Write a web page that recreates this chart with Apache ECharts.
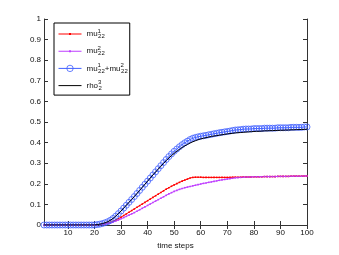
<!DOCTYPE html>
<html>
<head>
<meta charset="utf-8">
<script src="https://cdn.jsdelivr.net/npm/echarts@6/dist/echarts.min.js"></script>
<style>html,body{margin:0;padding:0;background:#fff}#c{width:339px;height:255px}</style>
</head>
<body>
<div id="c"></div>
<script>
var xTicks = [10, 20, 30, 40, 50, 60, 70, 80, 90, 100];
var mu1 = [0,0,0,0,0,0,0,0,0,0,0,0,0,0,0,0,0,0,0,0,
  0.001,0.002,0.004,0.006,0.009,0.013,0.018,0.024,0.031,0.038,
  0.046,0.054,0.062,0.070,0.078,0.086,0.094,0.102,0.110,0.118,
  0.126,0.134,0.142,0.150,0.158,0.166,0.174,0.181,0.188,0.195,
  0.201,0.207,0.213,0.218,0.223,0.228,0.231,0.232,0.232,0.232,
  0.231,0.231,0.231,0.231,0.231,0.231,0.231,0.231,0.231,0.231,
  0.231,0.232,0.232,0.232,0.232,0.233,0.233,0.233,0.233,0.234,
  0.234,0.234,0.234,0.235,0.235,0.235,0.235,0.235,0.236,0.236,
  0.236,0.236,0.236,0.237,0.237,0.237,0.237,0.237,0.238,0.238];
var mu2 = [0,0,0,0,0,0,0,0,0,0,0,0,0,0,0,0,0,0,0,0,
  0.001,0.002,0.003,0.005,0.007,0.010,0.014,0.019,0.024,0.030,
  0.036,0.042,0.048,0.054,0.060,0.067,0.074,0.081,0.088,0.095,
  0.102,0.109,0.116,0.123,0.130,0.137,0.144,0.151,0.157,0.163,
  0.168,0.173,0.177,0.181,0.184,0.187,0.190,0.193,0.196,0.199,
  0.202,0.204,0.207,0.209,0.212,0.214,0.217,0.219,0.221,0.223,
  0.225,0.227,0.229,0.230,0.231,0.232,0.233,0.233,0.233,0.234,
  0.234,0.234,0.234,0.235,0.235,0.235,0.235,0.235,0.236,0.236,
  0.236,0.236,0.236,0.237,0.237,0.237,0.237,0.237,0.238,0.238];
var muSum = [0,0,0,0,0,0,0,0,0,0,0,0,0,0,0,0,0,0,0,0,
  0.002,0.004,0.007,0.011,0.016,0.023,0.032,0.043,0.055,0.068,
  0.082,0.096,0.110,0.124,0.138,0.153,0.168,0.183,0.198,0.213,
  0.228,0.243,0.258,0.273,0.288,0.303,0.318,0.332,0.345,0.358,
  0.369,0.380,0.390,0.399,0.407,0.415,0.421,0.425,0.428,0.431,
  0.433,0.435,0.438,0.440,0.443,0.445,0.448,0.450,0.452,0.454,
  0.456,0.459,0.461,0.462,0.463,0.465,0.466,0.466,0.466,0.468,
  0.468,0.468,0.468,0.470,0.470,0.470,0.470,0.470,0.472,0.472,
  0.472,0.472,0.472,0.474,0.474,0.474,0.474,0.474,0.476,0.476];
var rho = [0,0,0,0,0,0,0,0,0,0,0,0,0,0,0,0,0,0,0,0,
  0.002,0.004,0.007,0.011,0.016,0.023,0.032,0.043,0.055,0.068,
  0.082,0.096,0.110,0.124,0.138,0.153,0.168,0.183,0.198,0.213,
  0.228,0.243,0.257,0.271,0.285,0.299,0.312,0.325,0.337,0.348,
  0.358,0.367,0.376,0.384,0.391,0.398,0.404,0.409,0.414,0.418,
  0.421,0.424,0.427,0.430,0.432,0.434,0.436,0.438,0.440,0.442,
  0.444,0.445,0.447,0.448,0.449,0.450,0.451,0.452,0.453,0.454,
  0.455,0.455,0.456,0.457,0.457,0.458,0.458,0.459,0.459,0.460,
  0.460,0.461,0.461,0.462,0.462,0.463,0.463,0.464,0.464,0.465];

function pairs(arr) { return arr.map(function (v, i) { return [i + 1, v]; }); }

var FONT = 'Liberation Sans';
var FS = 8;
var AX = '#333';
var TXT = '#111';
var RED = '#ff0000', MAG = '#bf3fff', BLUE = '#4060ff';
var legendText = {
  mu1: '{b|mu}{sp|1}{sb|22}',
  mu2: '{b|mu}{sp|2}{sb|22}',
  sum: '{b|mu}{sp|1}{sb|22}{b|+mu}{sp|2}{sb|22}',
  rho: '{b|rho}{sp|3}{sb|2}'
};
var dotLine = 'path://M0,0.5H23V1.5H0Z M10.5,0H12.5V2H10.5Z';
var plainLine = 'path://M0,0H23V1H0Z';

var chart = echarts.init(document.getElementById('c'), null, {renderer: 'canvas'});
var tickCommon = {inside: true, length: 4, lineStyle: {color: AX}};
chart.setOption({
  animation: false,
  backgroundColor: '#fff',
  textStyle: {fontFamily: FONT},
  grid: {left: 44, right: 32, top: 19, bottom: 30},
  legend: {
    left: 54, top: 23, orient: 'vertical',
    backgroundColor: '#fff', borderColor: '#000', borderWidth: 1,
    padding: [5, 2, 4, 4], itemGap: 5.7, itemWidth: 23, itemHeight: 8,
    data: [
      {name: 'mu1', icon: dotLine},
      {name: 'mu2', icon: dotLine},
      {name: 'sum', lineStyle: {width: 1}, itemStyle: {borderWidth: 0.8}},
      {name: 'rho', icon: plainLine}
    ],
    formatter: function (n) { return legendText[n]; },
    textStyle: {
      fontFamily: FONT, color: TXT,
      rich: {
        b: {fontSize: 8, fontFamily: FONT, color: TXT},
        sp: {fontSize: 6, fontFamily: FONT, color: TXT, padding: [0, 0, 6, 0], width: 0.5},
        sb: {fontSize: 6, fontFamily: FONT, color: TXT, padding: [5, 0, 0, 0]}
      }
    }
  },
  xAxis: [{
    type: 'value', min: 1, max: 100, position: 'bottom',
    name: 'time steps', nameLocation: 'middle', nameGap: 14,
    nameTextStyle: {fontSize: FS, color: TXT, fontFamily: FONT},
    axisLine: {lineStyle: {color: AX}},
    axisTick: Object.assign({customValues: xTicks}, tickCommon),
    axisLabel: {customValues: xTicks, fontSize: FS, color: TXT, margin: 4, fontFamily: FONT},
    splitLine: {show: false}
  }, {
    type: 'value', min: 1, max: 100, position: 'top',
    axisLine: {lineStyle: {color: AX}},
    axisTick: Object.assign({customValues: xTicks}, tickCommon),
    axisLabel: {show: false},
    splitLine: {show: false}
  }],
  yAxis: [{
    type: 'value', min: 0, max: 1, interval: 0.1, position: 'left',
    axisLine: {show: true, lineStyle: {color: AX}},
    axisTick: Object.assign({show: true}, tickCommon),
    axisLabel: {fontSize: FS, color: TXT, margin: 3, fontFamily: FONT},
    splitLine: {show: false}
  }, {
    type: 'value', min: 0, max: 1, interval: 0.1, position: 'right',
    axisLine: {show: true, lineStyle: {color: AX}},
    axisTick: Object.assign({show: true}, tickCommon),
    axisLabel: {show: false},
    splitLine: {show: false}
  }],
  series: [{
    name: 'mu1', type: 'line', data: pairs(mu1), z: 2,
    symbol: 'rect', symbolSize: 1.6, showAllSymbol: true,
    lineStyle: {color: RED, width: 1}, itemStyle: {color: RED}
  }, {
    name: 'mu2', type: 'line', data: pairs(mu2), z: 2,
    symbol: 'rect', symbolSize: 1.6, showAllSymbol: true,
    lineStyle: {color: MAG, width: 1}, itemStyle: {color: MAG}
  }, {
    name: 'sum', type: 'line', data: pairs(muSum), z: 3,
    symbol: 'circle', symbolSize: 6, showAllSymbol: true,
    lineStyle: {color: BLUE, width: 1},
    itemStyle: {color: 'rgba(0,0,0,0)', borderColor: BLUE, borderWidth: 0.8}
  }, {
    name: 'rho', type: 'line', data: pairs(rho), z: 4,
    symbol: 'none', lineStyle: {color: '#000', width: 1}, itemStyle: {color: '#000'}
  }]
});
</script>
</body>
</html>
